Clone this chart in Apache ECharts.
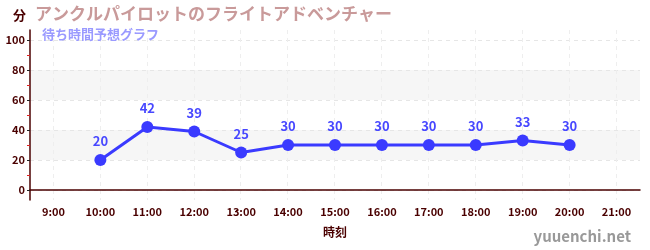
<!DOCTYPE html>
<html>
<head>
<meta charset="utf-8">
<script src="https://cdn.jsdelivr.net/npm/echarts@6/dist/echarts.min.js"></script>
<style>
  html, body { margin: 0; padding: 0; background: #fff; }
  #chart { width: 650px; height: 250px; }
</style>
</head>
<body>
<div id="chart"></div>
<script>
const hours = ['9:00', '10:00', '11:00', '12:00', '13:00', '14:00', '15:00', '16:00', '17:00', '18:00', '19:00', '20:00', '21:00'];
const waitTimes = [null, 20, 42, 39, 25, 30, 30, 30, 30, 30, 33, 30, null];
const yLabels = [0, 20, 40, 60, 80, 100];
const yMinorTicks = [10, 30, 50, 70, 90];

const font = '"Noto Sans CJK JP", "Noto Sans", sans-serif';
const axisColor = '#4a0000';

function renderChart() {
  const dom = document.getElementById('chart');
  const myChart = echarts.init(dom, null, { renderer: 'canvas' });

  const option = {
    animation: false,
    title: [
      {
        text: 'アンクルパイロットのフライトアドベンチャー',
        left: 30, top: 0,
        textStyle: { color: '#c99a9a', fontSize: 17, fontWeight: 'bold', fontFamily: font }
      },
      {
        text: '待ち時間予想グラフ',
        left: 37, top: 23,
        textStyle: { color: '#9a9aff', fontSize: 13, fontWeight: 'bold', fontFamily: font }
      },
      {
        text: 'yuuenchi.net',
        right: 14, top: 224,
        textStyle: { color: '#999', fontSize: 15, fontWeight: 'bold', fontFamily: font }
      }
    ],
    grid: [
      { left: 30, right: 10, top: 30, bottom: 50 },
      { left: 30, right: 10, top: 40, bottom: 60 },
      { left: 53, right: 34, top: 30, bottom: 50 }
    ],
    xAxis: [
      {
        gridIndex: 0,
        type: 'category',
        data: hours,
        boundaryGap: true,
        name: '時刻',
        nameLocation: 'middle',
        nameGap: 26,
        nameTextStyle: { color: axisColor, fontSize: 12, fontWeight: 'bold', fontFamily: font },
        axisLine: { lineStyle: { color: axisColor, width: 1.5 } },
        axisTick: { alignWithLabel: true, length: 4, lineStyle: { color: '#888' } },
        axisLabel: { color: axisColor, fontSize: 11, fontWeight: 'bold', fontFamily: font, margin: 6, interval: 0 },
        splitLine: { show: false }
      },
      {
        gridIndex: 1, type: 'value', min: 0, max: 1, show: false
      },
      {
        gridIndex: 2,
        type: 'value',
        min: 9, max: 21, interval: 1,
        axisLine: { show: false },
        axisTick: { show: false },
        axisLabel: { show: false },
        splitLine: { show: true, lineStyle: { color: '#eee', type: [4, 4] } }
      }
    ],
    yAxis: [
      {
        gridIndex: 0,
        type: 'value',
        min: -20 / 3,
        max: 320 / 3,
        name: '分',
        nameLocation: 'end',
        nameGap: 8,
        nameTextStyle: { color: axisColor, fontSize: 13, fontWeight: 'bold', fontFamily: font, align: 'right', padding: [0, 4, 0, 0] },
        axisLine: { show: true, lineStyle: { color: axisColor, width: 1.5 } },
        axisTick: { show: true, inside: false, length: 3, customValues: yLabels, lineStyle: { color: '#222' } },
        axisLabel: { color: axisColor, fontSize: 11, fontWeight: 'bold', fontFamily: font, margin: 5, customValues: yLabels },
        splitLine: { show: false }
      },
      {
        gridIndex: 0,
        type: 'value',
        min: -20 / 3,
        max: 320 / 3,
        position: 'left',
        axisLine: { show: false },
        axisTick: { show: true, length: 3, customValues: yMinorTicks, lineStyle: { color: '#e02020' } },
        axisLabel: { show: false, customValues: yMinorTicks },
        splitLine: { show: false }
      },
      {
        gridIndex: 1,
        type: 'value',
        min: 0, max: 100, interval: 20,
        axisLine: { show: false },
        axisTick: { show: false },
        axisLabel: { show: false },
        splitLine: { show: true, lineStyle: { color: '#e6e6e6', type: [4, 4] } },
        splitArea: { show: true, areaStyle: { color: ['rgba(0,0,0,0)', '#f6f6f6'] } }
      },
      {
        gridIndex: 2, type: 'value', min: 0, max: 1, show: false
      }
    ],
    series: [
      {
        name: '待ち時間',
        type: 'line',
        xAxisIndex: 0,
        yAxisIndex: 0,
        data: waitTimes,
        symbol: 'circle',
        symbolSize: 12,
        lineStyle: { color: '#3a3aff', width: 3 },
        itemStyle: { color: '#3a3aff' },
        label: {
          show: true,
          position: 'top',
          distance: 6,
          color: '#4848ff',
          fontSize: 13,
          fontWeight: 'bold',
          fontFamily: font
        },
        z: 5
      }
    ]
  };

  myChart.setOption(option);
  return myChart;
}

renderChart();
</script>
</body>
</html>
